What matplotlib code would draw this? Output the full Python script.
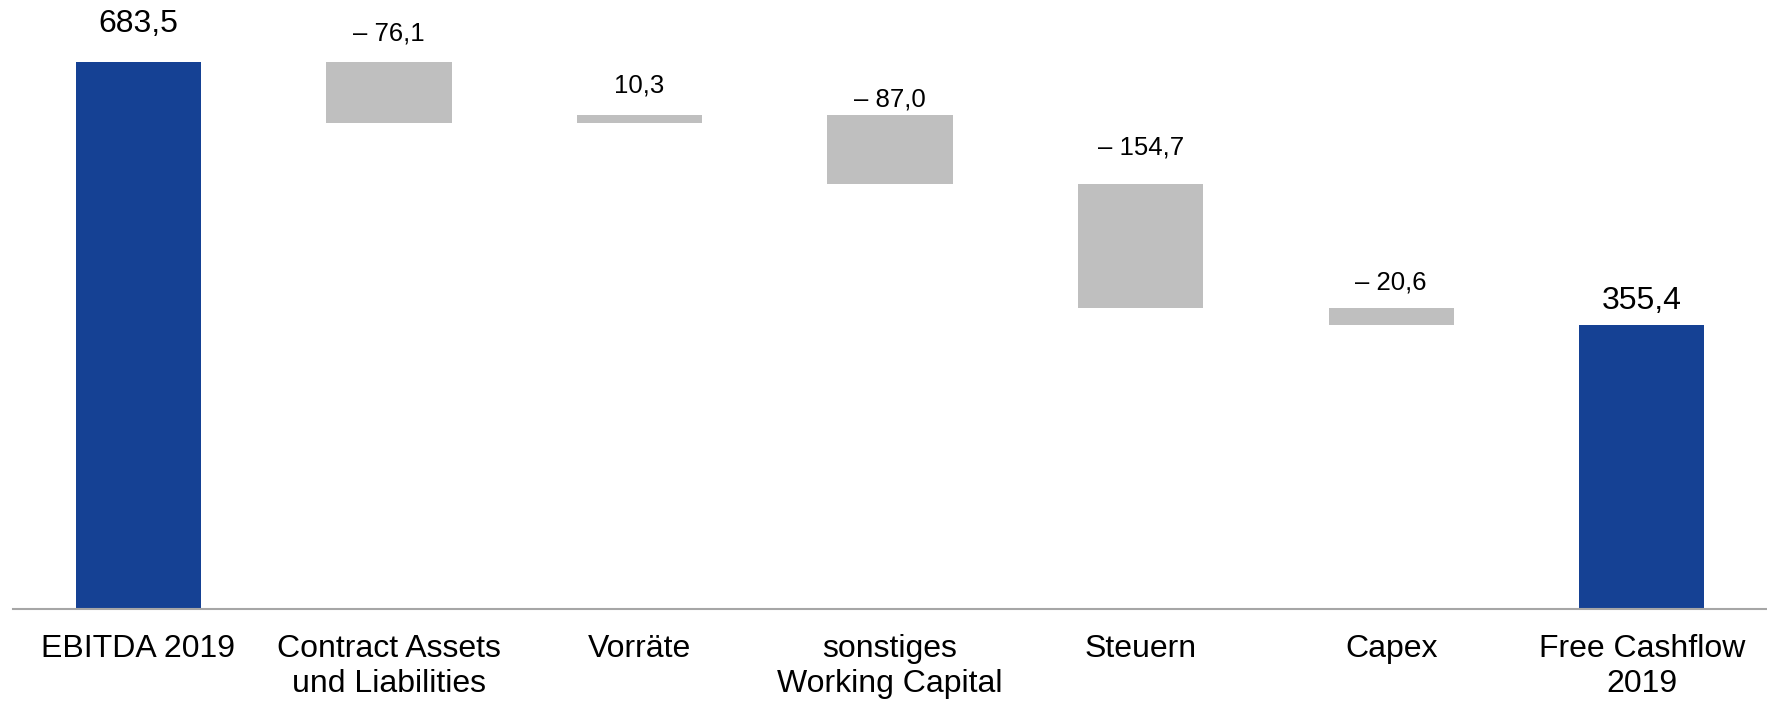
import numpy as np
import matplotlib.pyplot as plt

plt.rcParams['font.family'] = ['Liberation Sans', 'DejaVu Sans']

# data
categories = ['EBITDA 2019', 'Contract Assets\nund Liabilities', 'Vorräte',
              'sonstiges\nWorking Capital', 'Steuern', 'Capex', 'Free Cashflow\n2019']
start_value = 683.5
deltas = [-76.1, 10.3, -87.0, -154.7, -20.6]
end_value = 355.4

# label gap above each bar (points), as in the original slide
label_gap = [16.8, 11.6, 12.2, 2.2, 17.7, 9.6, 6.2]

blue = '#154194'
grey = '#bfbfbf'


def fmt(v, signed=False):
    s = f'{abs(v):.1f}'.replace('.', ',')
    if signed and v < 0:
        s = '\u2013 ' + s
    return s


fig = plt.figure(figsize=(17.67, 7.01), dpi=100)
ax = fig.add_axes([13 / 1767, 92 / 701, 1754 / 1767, 609 / 701])

x = np.arange(len(categories))
width = 0.5

# total bars
ax.bar(x[0], start_value, width, color=blue)
ax.bar(x[-1], end_value, width, color=blue)

# floating bars
level = start_value
tops = [start_value]
for i, d in enumerate(deltas):
    bottom = min(level, level + d)
    ax.bar(x[i + 1], abs(d), width, bottom=bottom, color=grey)
    tops.append(max(level, level + d))
    level += d
tops.append(end_value)

# labels
ax.annotate(fmt(start_value), (x[0], tops[0]), xytext=(0, label_gap[0]),
            textcoords='offset points', ha='center', va='bottom', fontsize=23)
for i, d in enumerate(deltas):
    ax.annotate(fmt(d, signed=True), (x[i + 1], tops[i + 1]), xytext=(0, label_gap[i + 1]),
                textcoords='offset points', ha='center', va='bottom', fontsize=18.5)
ax.annotate(fmt(end_value), (x[-1], tops[-1]), xytext=(0, label_gap[-1]),
            textcoords='offset points', ha='center', va='bottom', fontsize=23)

ax.set_xlim(-0.5, 6.5)
ax.set_ylim(0, 761)
ax.set_xticks(x)
ax.set_xticklabels(categories, fontsize=23, linespacing=1.22)
ax.tick_params(axis='x', length=0, pad=18)
ax.set_yticks([])
for side in ['top', 'right', 'left']:
    ax.spines[side].set_visible(False)
ax.spines['bottom'].set_color('#a6a6a6')
ax.spines['bottom'].set_linewidth(1.5)

fig.savefig('out.png', dpi=100)
